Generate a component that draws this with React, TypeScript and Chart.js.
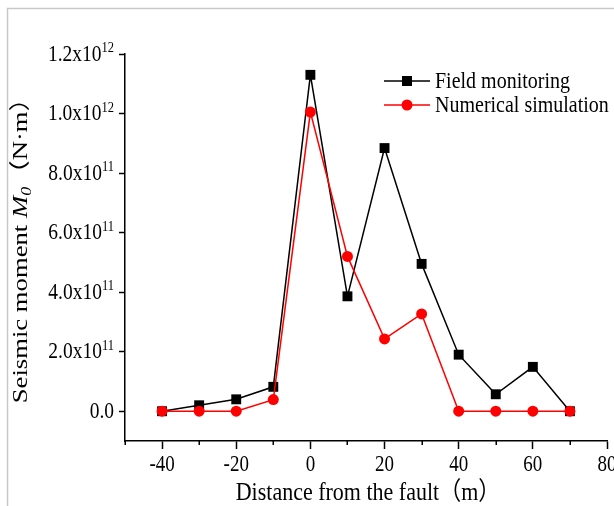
import React, { useEffect, useRef } from "react";
import { Chart, registerables } from "chart.js";

Chart.register(...registerables);

const distances = [-40, -30, -20, -10, 0, 10, 20, 30, 40, 50, 60, 70];
const fieldMonitoring = [0.0, 0.2e11, 0.4e11, 0.82e11, 11.3e11, 3.86e11, 8.84e11, 4.95e11, 1.9e11, 0.57e11, 1.49e11, 0.0];
const numericalSimulation = [0.0, 0.0, 0.0, 0.39e11, 10.05e11, 5.2e11, 2.43e11, 3.27e11, 0.0, 0.0, 0.0, 0.0];
const xMajorTicks = [-40, -20, 0, 20, 40, 60, 80];
const xMinorTicks = [-50, -30, -10, 10, 30, 50, 70];
const yTickValues = [0, 2e11, 4e11, 6e11, 8e11, 10e11, 12e11];
const seriesNames = ["Field monitoring", "Numerical simulation"];

const SERIF = "'Liberation Serif', 'Times New Roman', serif";
const CJK = "'Noto Sans CJK SC', 'Noto Sans CJK JP', sans-serif";
const SY = 1.2; // vertical glyph stretch seen in the reference

function splitY(v: number): [string, string] {
  if (v === 0) return ["0.0", ""];
  const exp = Math.floor(Math.log10(Math.abs(v)) + 1e-9);
  const mant = v / Math.pow(10, exp);
  return [mant.toFixed(1) + "x10", String(exp)];
}

type Seg = { t: string; f: string; dy?: number };

function segWidth(ctx: CanvasRenderingContext2D, segs: Seg[]) {
  let w = 0;
  segs.forEach((s) => {
    ctx.font = s.f;
    w += ctx.measureText(s.t).width;
  });
  return w;
}

function drawSegs(ctx: CanvasRenderingContext2D, segs: Seg[], x0: number, baseline: number) {
  let x = x0;
  segs.forEach((s) => {
    ctx.font = s.f;
    ctx.fillText(s.t, x, baseline + (s.dy || 0));
    x += ctx.measureText(s.t).width;
  });
}

const overlayPlugin = {
  id: "overlay",
  beforeDraw(chart: any) {
    const ctx = chart.ctx;
    ctx.save();
    ctx.strokeStyle = "#c8c8c8";
    ctx.lineWidth = 1.5;
    ctx.beginPath();
    ctx.moveTo(7.5, chart.height);
    ctx.lineTo(7.5, 8.5);
    ctx.lineTo(chart.width, 8.5);
    ctx.stroke();
    ctx.restore();
  },
  afterDraw(chart: any) {
    const ctx = chart.ctx;
    const xs = chart.scales.x;
    const ys = chart.scales.y;
    const area = chart.chartArea;
    ctx.save();
    ctx.fillStyle = "#000";
    ctx.textBaseline = "alphabetic";
    ctx.textAlign = "left";

    // minor x ticks
    ctx.strokeStyle = "#000";
    ctx.lineWidth = 1.5;
    xMinorTicks.forEach((v) => {
      const px = Math.round(xs.getPixelForValue(v)) + 0.25;
      ctx.beginPath();
      ctx.moveTo(px, area.bottom);
      ctx.lineTo(px, area.bottom + 4);
      ctx.stroke();
    });

    // x tick labels
    xMajorTicks.forEach((v) => {
      const px = xs.getPixelForValue(v);
      ctx.save();
      ctx.translate(px, area.bottom + 30);
      ctx.scale(1, SY);
      ctx.font = "19px " + SERIF;
      ctx.textAlign = "center";
      ctx.fillText(String(v), 0, 0);
      ctx.restore();
    });

    // y tick labels with superscript exponent
    yTickValues.forEach((v) => {
      const py = ys.getPixelForValue(v);
      const [m, e] = splitY(v);
      const segs: Seg[] = [{ t: m, f: "19.5px " + SERIF }];
      if (e) segs.push({ t: e, f: "12.5px " + SERIF, dy: -7 });
      const w = segWidth(ctx, segs);
      ctx.save();
      ctx.translate(114 - w, py + 6.5);
      ctx.scale(1, SY);
      drawSegs(ctx, segs, 0, 0);
      ctx.restore();
    });

    // Legend
    const rows = [
      { y: 81, color: "#000000", style: "rect", label: seriesNames[0] },
      { y: 105, color: "#ff0000", style: "circle", label: seriesNames[1] },
    ];
    rows.forEach((r) => {
      ctx.strokeStyle = r.color;
      ctx.lineWidth = 1.5;
      ctx.beginPath();
      ctx.moveTo(384, r.y);
      ctx.lineTo(430, r.y);
      ctx.stroke();
      ctx.fillStyle = r.color;
      if (r.style === "rect") {
        ctx.fillRect(407 - 5, r.y - 5, 10, 10);
      } else {
        ctx.beginPath();
        ctx.arc(407, r.y, 5.5, 0, Math.PI * 2);
        ctx.fill();
      }
      ctx.fillStyle = "#000";
      ctx.save();
      ctx.translate(435, r.y + 7);
      ctx.scale(1, 1.15);
      ctx.font = "20px " + SERIF;
      ctx.textAlign = "left";
      ctx.fillText(r.label, 0, 0);
      ctx.restore();
    });

    // X title
    const xt: Seg[] = [
      { t: "Distance from the fault", f: "22px " + SERIF },
      { t: "（", f: "22px " + CJK },
      { t: "m", f: "22px " + SERIF },
      { t: "）", f: "22px " + CJK },
    ];
    const xw = segWidth(ctx, xt);
    ctx.save();
    ctx.translate(368 - xw / 2, 500);
    ctx.scale(1, 1.15);
    drawSegs(ctx, xt, 0, 0);
    ctx.restore();

    // Y title (rotated), italic M with subscript 0
    const yt: Seg[] = [
      { t: "Seismic moment ", f: "21px " + SERIF },
      { t: "M", f: "italic 21px " + SERIF },
      { t: "0", f: "italic 14px " + SERIF, dy: 4 },
      { t: "（", f: "21px " + CJK },
      { t: "N·m", f: "21px " + SERIF },
      { t: "）", f: "21px " + CJK },
    ];
    const yw = segWidth(ctx, yt);
    ctx.save();
    ctx.translate(27, 244);
    ctx.rotate(-Math.PI / 2);
    ctx.scale(1.27, 1);
    drawSegs(ctx, yt, -yw / 2, 0);
    ctx.restore();

    ctx.restore();
  },
};

export default function App() {
  const ref = useRef<HTMLCanvasElement | null>(null);
  useEffect(() => {
    if (!ref.current) return;
    const chart = new Chart(ref.current, {
      type: "line",
      data: {
        datasets: [
          {
            label: seriesNames[0],
            data: distances.map((d, i) => ({ x: d, y: fieldMonitoring[i] })),
            borderColor: "#000000",
            backgroundColor: "#000000",
            borderWidth: 1.5,
            pointStyle: "rect",
            pointRadius: 7,
            pointBorderWidth: 0,
            tension: 0,
            order: 2,
          },
          {
            label: seriesNames[1],
            data: distances.map((d, i) => ({ x: d, y: numericalSimulation[i] })),
            borderColor: "#ff0000",
            backgroundColor: "#ff0000",
            borderWidth: 1.5,
            pointStyle: "circle",
            pointRadius: 5.5,
            pointBorderWidth: 0,
            tension: 0,
            order: 1,
          },
        ],
      },
      options: {
        animation: false,
        responsive: false,
        devicePixelRatio: 1,
        layout: { padding: { left: 0, top: 54, right: 33, bottom: 0 } },
        plugins: { legend: { display: false }, tooltip: { enabled: false } },
        scales: {
          x: {
            type: "linear",
            min: -50,
            max: 80,
            afterBuildTicks: (s: any) => {
              s.ticks = xMajorTicks.map((v) => ({ value: v }));
            },
            afterFit: (s: any) => {
              s.height = 65;
            },
            ticks: {
              autoSkip: false,
              maxRotation: 0,
              font: { family: SERIF, size: 10 },
              callback: () => "",
            },
            grid: {
              drawOnChartArea: false,
              drawTicks: true,
              tickLength: 8,
              tickColor: "#000",
              tickWidth: 1.5,
            },
            border: { display: true, color: "#000", width: 1.5 },
          },
          y: {
            type: "linear",
            min: -1e11,
            max: 1.2e12,
            afterBuildTicks: (s: any) => {
              s.ticks = yTickValues.map((v) => ({ value: v }));
            },
            afterFit: (s: any) => {
              s.width = 125;
            },
            ticks: {
              autoSkip: false,
              font: { family: SERIF, size: 10 },
              callback: () => "",
            },
            grid: {
              drawOnChartArea: false,
              drawTicks: true,
              tickLength: 6,
              tickColor: "#000",
              tickWidth: 1.5,
            },
            border: { display: true, color: "#000", width: 1.5 },
          },
        },
      },
      plugins: [overlayPlugin],
    });
    return () => chart.destroy();
  }, []);
  return (
    <div style={{ position: "fixed", left: 0, top: 0, width: 614, height: 506, overflow: "hidden", background: "#fff" }}>
      <canvas ref={ref} width={640} height={506} style={{ width: 640, height: 506, display: "block" }} />
    </div>
  );
}
